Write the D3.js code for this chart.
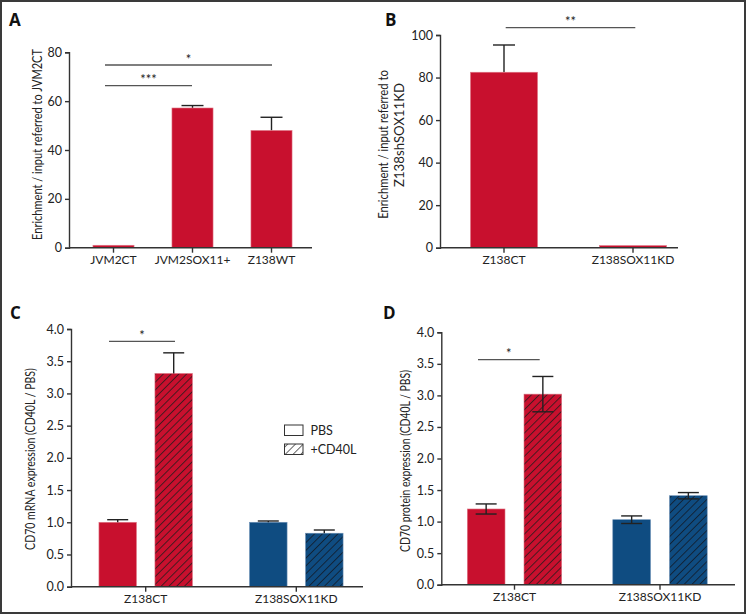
<!DOCTYPE html>
<html><head><meta charset="utf-8">
<script src="https://cdn.jsdelivr.net/npm/d3@7"></script>
<style>
body{margin:0;background:#fff;}
svg{display:block;}
text{font-family:Lato,"Open Sans",sans-serif;fill:#222;}
</style></head>
<body>
<svg id="c" width="746" height="614"></svg>
<script>
// ---------- data ----------
const catsA = ["JVM2CT", "JVM2SOX11+", "Z138WT"];
const valsA = [1.0, 57.2, 48.0];
const errA = [0, 1.0, 5.4];
const ticksA = [0, 20, 40, 60, 80];

const catsB = ["Z138CT", "Z138SOX11KD"];
const valsB = [82.5, 1.0];
const errB = [12.8, 0];
const ticksB = [0, 20, 40, 60, 80, 100];

const groups = ["Z138CT", "Z138SOX11KD"];
const conditions = ["PBS", "+CD40L"];
const valsC_PBS = [1.00, 1.00];
const valsC_CD40L = [3.31, 0.83];
const errC_PBS = [0.04, 0.02];
const errC_CD40L = [0.32, 0.05];
const valsD_PBS = [1.20, 1.03];
const valsD_CD40L = [3.02, 1.41];
const errD_PBS = [0.08, 0.06];
const errD_CD40L = [0.28, 0.05];
const ticksCD = [0, 0.5, 1.0, 1.5, 2.0, 2.5, 3.0, 3.5, 4.0];

const RED = "#c8102e", BLUE = "#0f4c81", AX = "#333";

const svg = d3.select("#c");
const defs = svg.append("defs");
function hatch(id, bg, line) {
  const p = defs.append("pattern").attr("id", id).attr("patternUnits", "userSpaceOnUse")
    .attr("width", 5.5).attr("height", 5.5).attr("patternTransform", "rotate(45)");
  p.append("rect").attr("width", 5.5).attr("height", 5.5).attr("fill", bg);
  p.append("line").attr("x1", 0.5).attr("y1", 0).attr("x2", 0.5).attr("y2", 5.5)
    .attr("stroke", line).attr("stroke-width", 0.9);
}
hatch("hRed", RED, "#3a1a1f");
hatch("hBlue", BLUE, "#102030");
hatch("hWhite", "#fff", "#555");

// frame
svg.append("rect").attr("x", 1).attr("y", 1).attr("width", 744).attr("height", 612)
  .attr("fill", "none").attr("stroke", "#3a3a3a").attr("stroke-width", 2);

function panelLabel(t, x, y) {
  svg.append("text").attr("x", x).attr("y", y).text(t)
    .style("font-family", "'Open Sans',Lato,sans-serif").style("font-weight", "bold").style("font-size", "17px").style("fill", "#111");
}
function yAxis(y, x0, ticks, fmt) {
  const g = svg.append("g").attr("transform", `translate(${x0},0)`)
    .call(d3.axisLeft(y).tickValues(ticks).tickFormat(fmt).tickSize(4).tickPadding(3));
  g.selectAll("path,line").attr("stroke", AX).attr("stroke-width", 1.4);
  g.selectAll("text").style("font-size", "12.5px").style("font-family", "Lato,sans-serif").attr("fill", "#222");
  return g;
}
function xAxis(x, yPos, x1, x2) {
  const g = svg.append("g").attr("transform", `translate(0,${yPos})`)
    .call(d3.axisBottom(x).tickSize(5).tickPadding(3).tickSizeOuter(0));
  g.select(".domain").remove();
  g.append("line").attr("x1", x1).attr("x2", x2).attr("stroke", AX).attr("stroke-width", 1.6);
  g.selectAll(".tick line").attr("stroke", AX).attr("stroke-width", 1.4);
  g.selectAll("text").style("font-size", "12px").style("font-family", "Lato,sans-serif").attr("fill", "#222");
  return g;
}
function yLabel(lines, cx, cy, len) {
  lines.forEach((t, i) => {
    const g = svg.append("g").attr("transform", `translate(${cx[i]},${cy[i]}) rotate(-90)`);
    const tx = g.append("text").attr("text-anchor", "middle").attr("dy", "0.35em")
      .style("font-size", "14px").style("font-family", "'Liberation Sans Narrow',Lato,sans-serif")
      .text(t);
    const natural = tx.node().getComputedTextLength();
    const s = natural > 0 ? len[i] / natural : 1;
    tx.attr("transform", `scale(${s},1)`);
  });
}
function sig(x1, x2, yv, txt) {
  svg.append("line").attr("x1", x1).attr("x2", x2).attr("y1", yv).attr("y2", yv)
    .attr("stroke", "#555").attr("stroke-width", 1.3);
  svg.append("text").attr("x", (x1 + x2) / 2).attr("y", yv - 1.5).attr("text-anchor", "middle")
    .style("font-size", "13px").text(txt);
}
function errBar(cx, yTop, yBot, half, twoSided) {
  svg.append("line").attr("x1", cx).attr("x2", cx).attr("y1", yTop).attr("y2", yBot)
    .attr("stroke", "#222").attr("stroke-width", 1.4);
  svg.append("line").attr("x1", cx - half).attr("x2", cx + half).attr("y1", yTop).attr("y2", yTop)
    .attr("stroke", "#222").attr("stroke-width", 1.4);
  if (twoSided) svg.append("line").attr("x1", cx - half).attr("x2", cx + half).attr("y1", yBot).attr("y2", yBot)
    .attr("stroke", "#222").attr("stroke-width", 1.4);
}

// ---------- Panel A ----------
panelLabel("A", 9, 26);
{
  const y = d3.scaleLinear().domain([0, 80]).range([247.7, 52.3]);
  const x = d3.scaleBand().domain(catsA).range([74, 311]).paddingInner(0.48).paddingOuter(0.24);
  catsA.forEach((c, i) => {
    if (errA[i] > 0) errBar(x(c) + x.bandwidth() / 2, y(valsA[i] + errA[i]), y(valsA[i]), 11, false);
  });
  svg.append("g").selectAll("rect").data(catsA).join("rect")
    .attr("x", d => x(d)).attr("width", x.bandwidth())
    .attr("y", (d, i) => y(valsA[i])).attr("height", (d, i) => y(0) - y(valsA[i]))
    .attr("fill", RED).attr("stroke", "#e07a88").attr("stroke-width", 0.6);
  yAxis(y, 69, ticksA, d3.format("d"));
  xAxis(x, 247.7, 69, 312);
  sig(105, 272, 65, "*");
  sig(105, 192, 85.7, "***");
  yLabel(["Enrichment / input referred to JVM2CT"], [36.7], [144.5], [191]);
}

// ---------- Panel B ----------
panelLabel("B", 385, 26);
{
  const y = d3.scaleLinear().domain([0, 100]).range([247.7, 35]);
  const x = d3.scaleBand().domain(catsB).range([439.5, 697.5]).paddingInner(0.48).paddingOuter(0.24);
  catsB.forEach((c, i) => {
    if (errB[i] > 0) errBar(x(c) + x.bandwidth() / 2, y(valsB[i] + errB[i]), y(valsB[i]), 11, false);
  });
  svg.append("g").selectAll("rect").data(catsB).join("rect")
    .attr("x", d => x(d)).attr("width", x.bandwidth())
    .attr("y", (d, i) => y(valsB[i])).attr("height", (d, i) => y(0) - y(valsB[i]))
    .attr("fill", RED).attr("stroke", "#e07a88").attr("stroke-width", 0.6);
  yAxis(y, 440, ticksB, d3.format("d"));
  xAxis(x, 247.7, 440, 678);
  sig(505.7, 635.3, 27.7, "**");
  yLabel(["Enrichment / input referred to", "Z138shSOX11KD"], [383, 399.5], [144.5, 135], [149, 104]);
}

// ---------- Panels C & D ----------
function grouped(opts) {
  const y = d3.scaleLinear().domain([0, 4]).range([opts.y0, opts.y4]);
  const x0 = d3.scaleBand().domain(groups).range(opts.gr);
  const x1 = d3.scaleBand().domain(conditions).range([-opts.sep, opts.sep]).paddingInner(opts.pi).paddingOuter(opts.pi / 2);
  const series = [opts.pbs, opts.cd];
  const errs = [opts.epbs, opts.ecd];
  groups.forEach((g, gi) => {
    const col = gi === 0 ? RED : BLUE;
    const hp = gi === 0 ? "url(#hRed)" : "url(#hBlue)";
    conditions.forEach((c, ci) => {
      const v = series[ci][gi];
      const bx = x0(g) + x0.bandwidth() / 2 + x1(c);
      svg.append("rect").attr("x", bx).attr("width", x1.bandwidth())
        .attr("y", y(v)).attr("height", y(0) - y(v))
        .attr("fill", ci === 0 ? col : hp)
        .attr("stroke", gi === 0 ? "#e07a88" : "#6a8fb5").attr("stroke-width", 0.6);
    });
    conditions.forEach((c, ci) => {
      const v = series[ci][gi], e = errs[ci][gi];
      const cx = x0(g) + x0.bandwidth() / 2 + x1(c) + x1.bandwidth() / 2;
      errBar(cx, y(v + e), opts.two ? y(v - e) : y(v), 10.5, opts.two);
    });
  });
  yAxis(y, opts.ax, ticksCD, d3.format(".1f"));
  xAxis(x0, opts.y0, opts.ax, opts.axEnd);
  return { y, x0, x1 };
}

panelLabel("C", 10, 319);
grouped({ y0: 586.7, y4: 329, gr: [70.4, 371.6], sep: 56, pi: 0.33, ax: 71, axEnd: 363,
  pbs: valsC_PBS, cd: valsC_CD40L, epbs: errC_PBS, ecd: errC_CD40L, two: false });
sig(109, 175, 341.3, "*");
yLabel(["CD70 mRNA expression (CD40L / PBS)"], [30], [459], [182]);

// legend
{
  const lg = svg.append("g");
  conditions.forEach((c, i) => {
    const yy = 425 + i * 19;
    lg.append("rect").attr("x", 284.5).attr("y", yy).attr("width", 18.5).attr("height", 10.5)
      .attr("fill", i === 0 ? "#fff" : "url(#hWhite)").attr("stroke", "#333").attr("stroke-width", 1);
    lg.append("text").attr("x", 310.5).attr("y", yy + 5.3).attr("dy", "0.35em")
      .style("font-size", "12.5px").text(c);
  });
}

panelLabel("D", 383, 319);
grouped({ y0: 584.7, y4: 332.3, gr: [441.75, 732.75], sep: 56.7, pi: 0.335, ax: 441.3, axEnd: 735,
  pbs: valsD_PBS, cd: valsD_CD40L, epbs: errD_PBS, ecd: errD_CD40L, two: true });
sig(478, 539.7, 359.7, "*");
yLabel(["CD70 protein expression (CD40L / PBS)"], [404.7], [461], [182]);
</script>
</body></html>
